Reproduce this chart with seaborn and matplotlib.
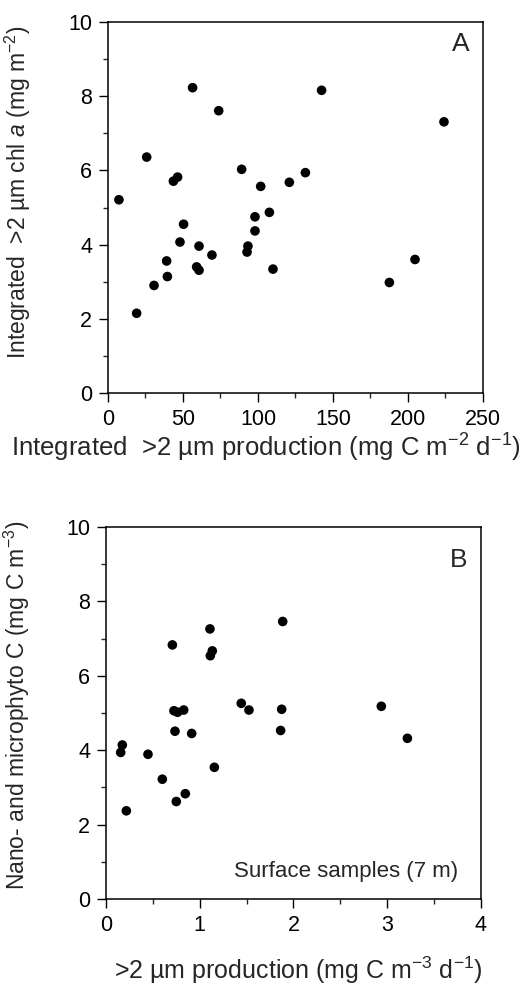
import matplotlib
matplotlib.use("Agg")
import matplotlib.pyplot as plt
from matplotlib.ticker import MultipleLocator
import seaborn as sns
import pandas as pd

# Panel A: integrated >2 um production vs integrated >2 um chl a
prod_int = [7.3, 25.8, 19.1, 30.7, 39.1, 39.6, 43.6, 46.4, 48.0, 50.4,
            56.4, 60.7, 59.1, 60.7, 69.3, 73.8, 89.1, 93.3, 92.7, 98.0,
            98.0, 101.8, 107.6, 110.0, 120.9, 131.6, 142.4, 187.6, 204.7, 224.0]
chl_int = [5.21, 6.36, 2.15, 2.90, 3.56, 3.14, 5.71, 5.82, 4.07, 4.55,
           8.23, 3.96, 3.40, 3.31, 3.72, 7.61, 6.03, 3.96, 3.80, 4.75,
           4.37, 5.57, 4.87, 3.34, 5.68, 5.94, 8.16, 2.98, 3.60, 7.31]

# Panel B: surface samples (7 m)
prod_surf = [0.174, 0.157, 0.217, 0.448, 0.601, 0.708, 0.725, 0.764, 0.829, 0.736,
             0.750, 0.846, 0.914, 1.109, 1.134, 1.113, 1.156, 1.443, 1.525, 1.874,
             1.863, 1.885, 2.937, 3.215]
phyto_c = [4.14, 3.94, 2.37, 3.89, 3.22, 6.83, 5.06, 5.02, 5.08, 4.51,
           2.62, 2.83, 4.45, 7.26, 6.67, 6.54, 3.54, 5.26, 5.08, 5.10,
           4.53, 7.46, 5.18, 4.32]

df_a = pd.DataFrame({"x": prod_int, "y": chl_int})
df_b = pd.DataFrame({"x": prod_surf, "y": phyto_c})

sns.set_style("ticks")
plt.rcParams["font.family"] = ["Liberation Sans", "DejaVu Sans"]
plt.rcParams["mathtext.fontset"] = "custom"
plt.rcParams["mathtext.rm"] = "Liberation Sans"
plt.rcParams["mathtext.it"] = "Liberation Sans:italic"
plt.rcParams["mathtext.default"] = "regular"

fig = plt.figure(figsize=(5.26, 9.88), dpi=100)
ax1 = fig.add_axes([0.2053, 0.6022, 0.7129, 0.3755])
ax2 = fig.add_axes([0.2015, 0.0901, 0.7129, 0.3765])

sns.scatterplot(data=df_a, x="x", y="y", ax=ax1, color="black", s=48, edgecolor="none")
sns.scatterplot(data=df_b, x="x", y="y", ax=ax2, color="black", s=48, edgecolor="none")

ax1.set_xlim(0, 250)
ax1.set_ylim(0, 10)
ax1.xaxis.set_major_locator(MultipleLocator(50))
ax1.xaxis.set_minor_locator(MultipleLocator(25))
ax2.set_xlim(0, 4)
ax2.set_ylim(0, 10)
ax2.xaxis.set_major_locator(MultipleLocator(1))
ax2.xaxis.set_minor_locator(MultipleLocator(0.5))

for ax in (ax1, ax2):
    ax.yaxis.set_major_locator(MultipleLocator(2))
    ax.yaxis.set_minor_locator(MultipleLocator(1))
    for sp in ax.spines.values():
        sp.set_visible(True)
        sp.set_color("black")
        sp.set_linewidth(1.1)
    ax.tick_params(which="major", direction="out", length=6.5, width=1.0,
                   labelsize=15.5, colors="black", pad=5)
    ax.tick_params(which="minor", direction="out", length=3.5, width=1.0)
    ax.tick_params(top=False, right=False, which="both")

ax1.set_xlabel("Integrated  >2 µm production (mg C m$^{-2}$ d$^{-1}$)", fontsize=18.5)
ax1.set_ylabel(r"Integrated  >2 µm chl $\mathit{a}$ (mg m$^{-2}$)", fontsize=16.5)
ax2.set_xlabel(">2 µm production (mg C m$^{-3}$ d$^{-1}$)", fontsize=18)
ax2.set_ylabel("Nano- and microphyto C (mg C m$^{-3}$)", fontsize=16.5)
ax1.xaxis.set_label_coords(0.421, -0.105)
ax2.xaxis.set_label_coords(0.512, -0.15)
ax1.yaxis.set_label_coords(-0.20, 0.542)
ax2.yaxis.set_label_coords(-0.197, 0.52)

ax1.text(0.94, 0.94, "A", transform=ax1.transAxes, fontsize=19, ha="center", va="center")
ax2.text(0.94, 0.91, "B", transform=ax2.transAxes, fontsize=19, ha="center", va="center")
ax2.text(0.94, 0.075, "Surface samples (7 m)", transform=ax2.transAxes,
         fontsize=16, ha="right", va="center")

fig.savefig("out.png", dpi=100)
